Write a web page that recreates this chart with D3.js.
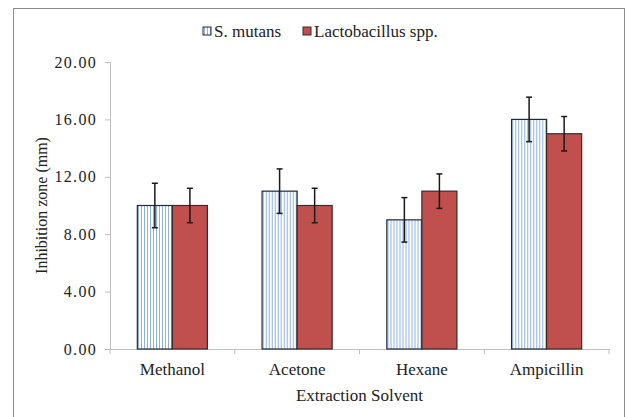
<!DOCTYPE html>
<html>
<head>
<meta charset="utf-8">
<script src="https://cdn.jsdelivr.net/npm/d3@7"></script>
<style>
  body { margin: 0; background: #fff; }
  svg text { font-family: "Liberation Serif", "Times New Roman", serif; fill: #222; }
</style>
</head>
<body>
<div id="chart"></div>
<script>
// chart data
var solvents = ["Methanol", "Acetone", "Hexane", "Ampicillin"];
var seriesNames = ["S. mutans", "Lactobacillus spp."];
var mutansValues = [10, 11, 9, 16];
var lactoValues = [10, 10, 11, 15];
var mutansErrors = [1.55, 1.55, 1.55, 1.55];
var lactoErrors = [1.2, 1.2, 1.2, 1.2];
var yTicks = [0, 4, 8, 12, 16, 20];

var width = 625, height = 417;
var margin = {left: 110, right: 16, top: 62, bottom: 68};

var svg = d3.select("#chart").append("svg")
    .attr("width", width)
    .attr("height", height);

// vertical stripe fill for S. mutans
var pattern = svg.append("defs").append("pattern")
    .attr("id", "stripes")
    .attr("patternUnits", "userSpaceOnUse")
    .attr("width", 3)
    .attr("height", 10);
pattern.append("rect").attr("width", 3).attr("height", 10).attr("fill", "#fff");
pattern.append("rect").attr("x", 1).attr("width", 1).attr("height", 10).attr("fill", "#8db3e2");

// outer frame
svg.append("rect")
    .attr("x", 13.5).attr("y", 8.5)
    .attr("width", 611).attr("height", 420)
    .attr("fill", "none")
    .attr("stroke", "#8c8c8c")
    .attr("stroke-width", 1);

var x0 = d3.scaleBand()
    .domain(solvents)
    .range([margin.left, width - margin.right])
    .paddingInner(0)
    .paddingOuter(0);

var x1 = d3.scaleBand()
    .domain(seriesNames)
    .range([0, x0.bandwidth()])
    .paddingOuter(0.78)
    .paddingInner(0);

var y = d3.scaleLinear()
    .domain([0, 20])
    .range([height - margin.bottom, margin.top]);

// axes
var yAxis = svg.append("g")
    .attr("transform", "translate(" + margin.left + ",0)")
    .call(d3.axisLeft(y).tickValues(yTicks).tickSize(5).tickPadding(8)
        .tickFormat(function(d){ return d3.format(".2f")(d); }));
yAxis.selectAll("text").style("font-size", "16px").style("letter-spacing", "1.3px");

var xAxis = svg.append("g")
    .attr("transform", "translate(0," + y(0) + ")")
    .call(d3.axisBottom(x0).tickSize(0).tickPadding(14));
xAxis.selectAll("text").style("font-size", "17px");
// category boundary ticks
xAxis.selectAll(".bound")
    .data(solvents.concat(["end"]))
    .enter().append("line")
    .attr("x1", function(d, i){ return margin.left + i * x0.bandwidth(); })
    .attr("x2", function(d, i){ return margin.left + i * x0.bandwidth(); })
    .attr("y1", 0).attr("y2", 5)
    .attr("stroke", "#bfbfbf");

svg.selectAll(".domain, .tick line").attr("stroke", "#bfbfbf");

// bars
var groups = svg.selectAll(".group")
    .data(solvents)
    .enter().append("g")
    .attr("class", "group")
    .attr("transform", function(d){ return "translate(" + x0(d) + ",0)"; });

var rows = solvents.map(function(s, i){
    return [
        {name: seriesNames[0], value: mutansValues[i], err: mutansErrors[i]},
        {name: seriesNames[1], value: lactoValues[i], err: lactoErrors[i]}
    ];
});

groups.selectAll("rect")
    .data(function(d, i){ return rows[i]; })
    .enter().append("rect")
    .attr("x", function(d){ return x1(d.name); })
    .attr("y", function(d){ return y(d.value); })
    .attr("width", x1.bandwidth())
    .attr("height", function(d){ return y(0) - y(d.value); })
    .attr("fill", function(d){ return d.name == seriesNames[0] ? "url(#stripes)" : "#c0504d"; })
    .attr("stroke", function(d){ return d.name == seriesNames[0] ? "#1f2a3a" : "#3a2a2a"; })
    .attr("stroke-width", 1.2);

// error bars
var errs = groups.selectAll(".err")
    .data(function(d, i){ return rows[i]; })
    .enter().append("g")
    .attr("class", "err")
    .attr("stroke", "#1a1a1a")
    .attr("stroke-width", 1.5);

errs.append("line")
    .attr("x1", function(d){ return x1(d.name) + x1.bandwidth() / 2; })
    .attr("x2", function(d){ return x1(d.name) + x1.bandwidth() / 2; })
    .attr("y1", function(d){ return y(d.value + d.err); })
    .attr("y2", function(d){ return y(d.value - d.err); });
[1, -1].forEach(function(s){
    errs.append("line")
        .attr("x1", function(d){ return x1(d.name) + x1.bandwidth() / 2 - 3; })
        .attr("x2", function(d){ return x1(d.name) + x1.bandwidth() / 2 + 3; })
        .attr("y1", function(d){ return y(d.value + s * d.err); })
        .attr("y2", function(d){ return y(d.value + s * d.err); });
});

// axis titles
svg.append("text")
    .attr("x", (margin.left + width - margin.right) / 2)
    .attr("y", 401)
    .attr("text-anchor", "middle")
    .style("font-size", "17px")
    .text("Extraction Solvent");

svg.append("text")
    .attr("transform", "translate(47," + y(10) + ") rotate(-90)")
    .attr("text-anchor", "middle")
    .style("font-size", "16px")
    .text("Inhibition zone (mm)");

// legend
var legendX = [203, 303];
var legend = svg.selectAll(".legend")
    .data(seriesNames)
    .enter().append("g")
    .attr("class", "legend")
    .attr("transform", function(d, i){ return "translate(" + legendX[i] + ",27)"; });
legend.append("rect")
    .attr("width", 8).attr("height", 8)
    .attr("fill", function(d, i){ return i == 0 ? "url(#stripes)" : "#c0504d"; })
    .attr("stroke", function(d, i){ return i == 0 ? "#1f2a3a" : "#3a2a2a"; })
    .attr("stroke-width", 1);
legend.append("text")
    .attr("x", 11).attr("y", 10)
    .style("font-size", "17px")
    .text(function(d){ return d; });
</script>
</body>
</html>
